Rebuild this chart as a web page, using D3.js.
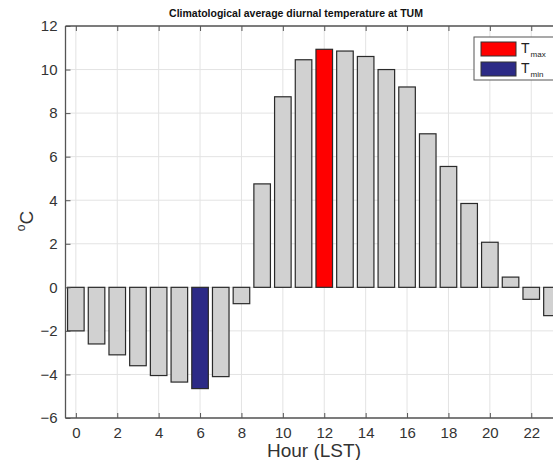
<!DOCTYPE html>
<html>
<head>
<meta charset="utf-8">
<script src="https://cdn.jsdelivr.net/npm/d3@7/dist/d3.min.js"></script>
<style>
  html, body { margin: 0; padding: 0; background: #fff; }
  svg { display: block; font-family: "Liberation Sans", Arial, sans-serif; }
</style>
</head>
<body>
<svg id="chart" width="553" height="460"></svg>
<script>
// Hour of day (local standard time)
const hours = d3.range(0, 24);
// Mean diurnal temperature anomaly (°C) for each hour
const temps = [-2.0, -2.6, -3.1, -3.6, -4.05, -4.35, -4.65, -4.1, -0.75,
               4.75, 8.75, 10.45, 10.93, 10.85, 10.6, 10.0, 9.2, 7.05,
               5.55, 3.85, 2.07, 0.47, -0.55, -1.3];
const xTicks = d3.range(0, 24, 2);
const yTicks = d3.range(-6, 13, 2);
const legendItems = [
  { sub: "max", color: "#ff0000" },
  { sub: "min", color: "#2c2a86" }
];

const svg = d3.select("#chart");
const plotLeft = 65.5, plotTop = 26, plotBottom = 418;
const x = d3.scaleLinear().domain([-0.5, 23.5]).range([plotLeft, plotLeft + 24 * 20.7]);
const y = d3.scaleLinear().domain([-6, 12]).range([plotBottom, plotTop]);
const plotRight = x(23.5);

const iMax = temps.indexOf(d3.max(temps));
const iMin = temps.indexOf(d3.min(temps));

// grid
const grid = svg.append("g").attr("stroke", "#e3e3e3").attr("stroke-width", 1);
grid.selectAll("line.gx").data(xTicks).join("line").attr("class", "gx")
  .attr("x1", d => x(d)).attr("x2", d => x(d)).attr("y1", plotTop).attr("y2", plotBottom);
grid.selectAll("line.gy").data(yTicks).join("line").attr("class", "gy")
  .attr("x1", plotLeft).attr("x2", plotRight).attr("y1", d => y(d)).attr("y2", d => y(d));

// bars
const bw = 0.8;
svg.append("g").selectAll("rect").data(hours).join("rect")
  .attr("x", h => x(h - bw / 2))
  .attr("width", h => x(h + bw / 2) - x(h - bw / 2))
  .attr("y", h => y(Math.max(0, temps[h])))
  .attr("height", h => Math.abs(y(temps[h]) - y(0)))
  .attr("fill", h => h === iMax ? legendItems[0].color : h === iMin ? legendItems[1].color : "#d1d1d1")
  .attr("stroke", "#2a2a2a").attr("stroke-width", 1.2);

// axes (inward ticks, boxed)
const axisColor = "#555";
const xAxis = d3.axisBottom(x).tickValues(xTicks).tickSize(-5).tickPadding(9);
const gx = svg.append("g").attr("transform", `translate(0,${plotBottom})`).call(xAxis);
const xAxisTop = d3.axisTop(x).tickValues(xTicks).tickSize(-5).tickFormat("");
const gxt = svg.append("g").attr("transform", `translate(0,${plotTop})`).call(xAxisTop);
const yAxis = d3.axisLeft(y).tickValues(yTicks).tickSize(-5).tickPadding(8);
const gy = svg.append("g").attr("transform", `translate(${plotLeft},0)`).call(yAxis);
[gx, gxt, gy].forEach(g => {
  g.select(".domain").attr("stroke", axisColor).attr("stroke-width", 1.3);
  g.selectAll(".tick line").attr("stroke", axisColor);
  g.selectAll(".tick text").attr("fill", "#333").attr("font-size", 15)
    .attr("font-family", "Liberation Sans, Arial, sans-serif");
});
gy.select(".domain").attr("d", `M0,${plotTop}V${plotBottom}`);
gx.select(".domain").attr("d", `M${plotLeft},0H${plotRight}`);
gxt.select(".domain").attr("d", `M${plotLeft},0H${plotRight}`);

// title
svg.append("text").attr("x", 296).attr("y", 17).attr("text-anchor", "middle")
  .attr("font-size", 10.5).attr("font-weight", "bold").attr("fill", "#111")
  .text("Climatological average diurnal temperature at TUM");

// x label
svg.append("text").attr("x", 314).attr("y", 457).attr("text-anchor", "middle")
  .attr("font-size", 19).attr("fill", "#333").text("Hour (LST)");

// y label
const yl = svg.append("text").attr("transform", "translate(33,221) rotate(-90)")
  .attr("text-anchor", "middle").attr("font-size", 19).attr("fill", "#333");
yl.append("tspan").attr("font-size", 12).attr("dy", -8).text("o");
yl.append("tspan").attr("dy", 8).text("C");

// legend
const lg = svg.append("g").attr("transform", "translate(474,37)");
lg.append("rect").attr("width", 80).attr("height", 43)
  .attr("fill", "#fff").attr("stroke", "#555").attr("stroke-width", 1);
const li = lg.selectAll("g.item").data(legendItems).join("g").attr("class", "item")
  .attr("transform", (d, i) => `translate(7,${5 + i * 20})`);
li.append("rect").attr("width", 35).attr("height", 14)
  .attr("fill", d => d.color).attr("stroke", "#333").attr("stroke-width", 1);
const lt = li.append("text").attr("x", 40).attr("y", 11).attr("fill", "#222").attr("font-size", 14);
lt.append("tspan").text("T");
lt.append("tspan").attr("font-size", 8).attr("dy", 4).attr("dx", 1).text(d => d.sub);
</script>
</body>
</html>
